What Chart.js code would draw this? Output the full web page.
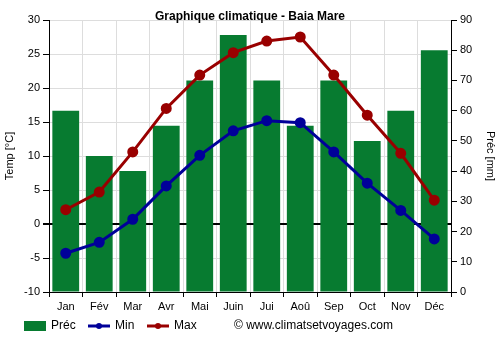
<!DOCTYPE html>
<html lang="fr">
<head>
<meta charset="utf-8">
<title>Graphique climatique - Baia Mare</title>
<script src="https://cdn.jsdelivr.net/npm/chart.js@4"></script>
<style>
  html, body { margin: 0; padding: 0; background: #fff; }
  #wrap { position: relative; width: 500px; height: 350px; }
</style>
</head>
<body>
<div id="wrap"><canvas id="climat" width="500" height="350"></canvas></div>
<script>
// Baia Mare monthly climate data
const months = ['Jan', 'Fév', 'Mar', 'Avr', 'Mai', 'Juin', 'Jui', 'Aoû', 'Sep', 'Oct', 'Nov', 'Déc'];
const precip = [60, 45, 40, 55, 70, 85, 70, 55, 70, 50, 60, 80];
const tempMin = [-4.3, -2.7, 0.7, 5.6, 10.1, 13.7, 15.2, 14.9, 10.6, 6.0, 2.0, -2.2];
const tempMax = [2.1, 4.7, 10.6, 17.0, 21.9, 25.2, 26.9, 27.5, 21.9, 16.0, 10.4, 3.5];

const green = '#077b30';
const blue = '#000099';
const red = '#990000';
const font = { family: 'Arial, "Liberation Sans", sans-serif', size: 11 };

// title, legend and credit drawn straight onto the canvas
const decorations = {
    id: 'decorations',
    afterDraw(chart) {
        const ctx = chart.ctx;
        ctx.save();
        ctx.fillStyle = '#000';
        ctx.font = 'bold 12px Arial, "Liberation Sans", sans-serif';
        ctx.textAlign = 'center';
        ctx.textBaseline = 'middle';
        ctx.fillText('Graphique climatique - Baia Mare', 250, 17);

        const y = 326;
        ctx.font = '12px Arial, "Liberation Sans", sans-serif';
        ctx.textAlign = 'left';

        ctx.fillStyle = green;
        ctx.fillRect(24, 321, 22, 10);
        ctx.fillStyle = '#000';
        ctx.fillText('Préc', 51, y);

        [[88, blue, 'Min'], [147, red, 'Max']].forEach(([x, c, label]) => {
            ctx.strokeStyle = c;
            ctx.lineWidth = 3;
            ctx.beginPath();
            ctx.moveTo(x, y);
            ctx.lineTo(x + 22, y);
            ctx.stroke();
            ctx.fillStyle = c;
            ctx.beginPath();
            ctx.arc(x + 11, y, 3, 0, Math.PI * 2);
            ctx.fill();
            ctx.fillStyle = '#000';
            ctx.fillText(label, x + 27, y);
        });

        ctx.fillText('© www.climatsetvoyages.com', 234, y);
        ctx.restore();
    }
};

new Chart(document.getElementById('climat'), {
    data: {
        labels: months,
        datasets: [
            {
                type: 'line',
                label: 'Max',
                data: tempMax,
                yAxisID: 'y',
                borderColor: red,
                backgroundColor: red,
                borderWidth: 3,
                pointRadius: 4,
                pointHoverRadius: 4,
                tension: 0,
                order: 1
            },
            {
                type: 'line',
                label: 'Min',
                data: tempMin,
                yAxisID: 'y',
                borderColor: blue,
                backgroundColor: blue,
                borderWidth: 3,
                pointRadius: 4,
                pointHoverRadius: 4,
                tension: 0,
                order: 2
            },
            {
                type: 'bar',
                label: 'Préc',
                data: precip,
                yAxisID: 'y1',
                backgroundColor: green,
                barPercentage: 0.8,
                categoryPercentage: 1.0,
                order: 3
            }
        ]
    },
    options: {
        responsive: false,
        animation: false,
        layout: { padding: { top: 20, left: 0, right: 0, bottom: 0 } },
        plugins: {
            legend: { display: false },
            tooltip: { enabled: false }
        },
        scales: {
            x: {
                offset: true,
                grid: {
                    offset: true,
                    color: '#dddddd',
                    tickColor: '#000',
                    tickLength: 5
                },
                border: { color: '#000', width: 1 },
                ticks: { color: '#000', font: font, padding: 3, maxRotation: 0 },
                afterFit(scale) { scale.height = 58; }
            },
            y: {
                position: 'left',
                min: -10,
                max: 30,
                ticks: { stepSize: 5, color: '#000', font: font, padding: 3 },
                grid: {
                    color: (c) => c.tick && c.tick.value === 0 ? '#000' : '#dddddd',
                    lineWidth: (c) => c.tick && c.tick.value === 0 ? 2 : 1,
                    tickColor: '#000',
                    tickLength: 6
                },
                border: { color: '#000', width: 1 },
                title: { display: true, text: 'Temp [°C]', color: '#000', font: font, padding: { top: 3, bottom: 0 } },
                afterFit(scale) { scale.width = 49; }
            },
            y1: {
                position: 'right',
                min: 0,
                max: 90,
                ticks: { stepSize: 10, color: '#000', font: font, padding: 3 },
                grid: { drawOnChartArea: false, tickColor: '#000', tickLength: 6 },
                border: { color: '#000', width: 1 },
                title: { display: true, text: 'Préc [mm]', color: '#000', font: font, padding: { top: 3, bottom: 0 } },
                afterFit(scale) { scale.width = 49; }
            }
        }
    },
    plugins: [decorations]
});
</script>
</body>
</html>
